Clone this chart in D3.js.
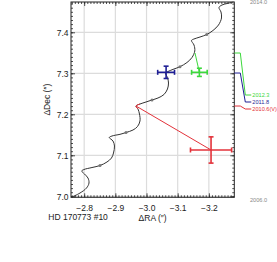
<!DOCTYPE html>
<html><head><meta charset="utf-8">
<script src="https://cdn.jsdelivr.net/npm/d3@7"></script>
<style>body{margin:0;background:#fff}svg{display:block}text{font-family:"Liberation Sans",Arial,sans-serif}</style>
</head><body><svg id="c" width="277" height="262"></svg>
<script>
// ---- data ----
const trackRA = [-2.7599,-2.7865,-2.8074,-2.8154,-2.8122,-2.8010,-2.7920,-2.7994,-2.8250,-2.8507,-2.8731,-2.8876,-2.8940,-2.8972,-2.8924,-2.8805,-2.8892,-2.9149,-2.9341,-2.9566,-2.9710,-2.9790,-2.9774,-2.9726,-2.9662,-2.9790,-2.9983,-3.0175,-3.0368,-3.0560,-3.0672,-3.0705,-3.0672,-3.0608,-3.0688,-3.0881,-3.1073,-3.1297,-3.1458,-3.1548,-3.1523,-3.1442,-3.1523,-3.1715,-3.1930,-3.2132,-3.2309,-3.2405,-3.2389,-3.2325,-3.2421,-3.2613,-3.2790];
const trackDec = [6.9980,7.0080,7.0202,7.0324,7.0446,7.0544,7.0617,7.0654,7.0702,7.0751,7.0837,7.0934,7.1056,7.1227,7.1349,7.1434,7.1471,7.1512,7.1556,7.1617,7.1702,7.1837,7.2007,7.2129,7.2202,7.2251,7.2300,7.2349,7.2398,7.2483,7.2617,7.2763,7.2898,7.3007,7.3044,7.3105,7.3161,7.3263,7.3385,7.3544,7.3690,7.3800,7.3837,7.3885,7.3946,7.4044,7.4178,7.4349,7.4495,7.4605,7.4666,7.4707,7.4739];
const epochRA = [-2.8507,-2.9341,-3.0175,-3.1073,-3.1930];
const epochDec = [7.0751,7.1556,7.2349,7.3161,7.3946];
const obsLabels = ["2010.6(V)","2011.8","2012.3"];
const obsRA = [-3.207,-3.0628,-3.1696];
const obsDec = [7.113,7.3024,7.3024];
const obsErrRA = [0.066,0.027,0.025];
const obsErrDec = [0.032,0.015,0.010];
const predRA = [-2.9662,-3.0608,-3.1555];
const predDec = [7.2202,7.3007,7.3495];
const obsColors = ["#e3323a","#1f1f95","#3cd83c"];
const legendOrder = [2,1,0];
const xTicks = [-2.8,-2.9,-3.0,-3.1,-3.2];
const yTicks = [7.0,7.1,7.2,7.3,7.4];
const epochEnds = ["2014.0","2006.0"];
const starName = "HD 170773 #10";

// ---- layout ----
const L = 71, R = 234.3, T = 2, B = 197.3;
const x = d3.scaleLinear().domain([-2.7577,-3.2816]).range([L,R]);
const y = d3.scaleLinear().domain([6.9976,7.4739]).range([B,T]);
const svg = d3.select("#c");
const ink = "#222";
const fmt = d3.format(".1f");

const minorX = d3.range(-276,-328,-1).map(v=>v/100).filter(v=>v<=-2.7577 && v>=-3.2816);
const minorY = d3.range(700,748,1).map(v=>v/100).filter(v=>v>=6.9976 && v<=7.4739);

// grid
svg.append("g").selectAll("line").data(xTicks).join("line")
  .attr("x1",d=>x(d)).attr("x2",d=>x(d)).attr("y1",T).attr("y2",B)
  .attr("stroke","#dcdcdc").attr("stroke-width",1.2);
svg.append("g").selectAll("line").data(yTicks).join("line")
  .attr("y1",d=>y(d)).attr("y2",d=>y(d)).attr("x1",L).attr("x2",R)
  .attr("stroke","#dcdcdc").attr("stroke-width",1.2);

function styleAxis(g){ g.select(".domain").remove(); g.selectAll("line").attr("stroke",ink).attr("stroke-width",0.8); g.selectAll("text").attr("fill",ink).style("font-size","8.5px").style("font-family",'"Liberation Sans",Arial,sans-serif'); }

// minor ticks
svg.append("g").attr("transform",`translate(0,${B})`).call(d3.axisBottom(x).tickValues(minorX).tickSize(-2).tickFormat("")).call(styleAxis);
svg.append("g").attr("transform",`translate(0,${T})`).call(d3.axisTop(x).tickValues(minorX).tickSize(-2).tickFormat("")).call(styleAxis);
svg.append("g").attr("transform",`translate(${L},0)`).call(d3.axisLeft(y).tickValues(minorY).tickSize(-2).tickFormat("")).call(styleAxis);
svg.append("g").attr("transform",`translate(${R},0)`).call(d3.axisRight(y).tickValues(minorY).tickSize(-2).tickFormat("")).call(styleAxis);
// major ticks
svg.append("g").attr("transform",`translate(0,${B})`).call(d3.axisBottom(x).tickValues(xTicks).tickSize(-4).tickPadding(8).tickFormat(fmt)).call(styleAxis);
svg.append("g").attr("transform",`translate(0,${T})`).call(d3.axisTop(x).tickValues(xTicks).tickSize(-4).tickFormat("")).call(styleAxis);
svg.append("g").attr("transform",`translate(${L},0)`).call(d3.axisLeft(y).tickValues(yTicks).tickSize(-4).tickPadding(2.5).tickFormat(fmt)).call(styleAxis);
svg.append("g").attr("transform",`translate(${R},0)`).call(d3.axisRight(y).tickValues(yTicks).tickSize(-4).tickFormat("")).call(styleAxis);

// frame
svg.append("rect").attr("x",L).attr("y",T).attr("width",R-L).attr("height",B-T)
  .attr("fill","none").attr("stroke",ink).attr("stroke-width",1);

// track
const trackPts = trackRA.map((r,i)=>[r,trackDec[i]]);
const line = d3.line().x(d=>x(d[0])).y(d=>y(d[1])).curve(d3.curveCatmullRom.alpha(0.5));
svg.append("path").datum(trackPts).attr("d",line).attr("fill","none").attr("stroke","#333").attr("stroke-width",1);
// red highlight near the 2010.6 predicted position
svg.append("path").datum(trackPts.slice(23,26)).attr("d",line).attr("fill","none").attr("stroke",obsColors[0]).attr("stroke-width",1);

// lines obs -> predicted
svg.append("g").selectAll("line").data(obsRA).join("line")
  .attr("x1",(d,i)=>x(obsRA[i])).attr("y1",(d,i)=>y(obsDec[i]))
  .attr("x2",(d,i)=>x(predRA[i])).attr("y2",(d,i)=>y(predDec[i]))
  .attr("stroke",(d,i)=>obsColors[i]).attr("stroke-width",1);

// epoch markers
svg.append("g").selectAll("circle").data(epochRA).join("circle")
  .attr("cx",(d,i)=>x(epochRA[i])).attr("cy",(d,i)=>y(epochDec[i])).attr("r",1.5)
  .attr("fill","#777");

// error crosses
obsRA.forEach((r,i)=>{
  const g = svg.append("g").attr("stroke",obsColors[i]).attr("stroke-width",1.6).attr("fill","none");
  const cx = x(r), cy = y(obsDec[i]);
  const x0 = x(r+obsErrRA[i]), x1 = x(r-obsErrRA[i]);
  const y0 = y(obsDec[i]-obsErrDec[i]), y1 = y(obsDec[i]+obsErrDec[i]);
  const cap = 2.5;
  g.append("line").attr("x1",x0).attr("x2",x1).attr("y1",cy).attr("y2",cy);
  g.append("line").attr("x1",cx).attr("x2",cx).attr("y1",y0).attr("y2",y1);
  g.append("line").attr("x1",x0).attr("x2",x0).attr("y1",cy-cap).attr("y2",cy+cap);
  g.append("line").attr("x1",x1).attr("x2",x1).attr("y1",cy-cap).attr("y2",cy+cap);
  g.append("line").attr("x1",cx-cap).attr("x2",cx+cap).attr("y1",y0).attr("y2",y0);
  g.append("line").attr("x1",cx-cap).attr("x2",cx+cap).attr("y1",y1).attr("y2",y1);
});

// right-hand epoch legend
legendOrder.forEach((idx,k)=>{
  const ys = y(predDec[idx]);
  const yl = 95 + k*7;
  svg.append("polyline")
    .attr("points",[[R,ys],[R+6,ys],[R+11,yl],[R+17,yl]].map(p=>p.join(",")).join(" "))
    .attr("fill","none").attr("stroke",obsColors[idx]).attr("stroke-width",1);
  svg.append("text").attr("x",R+18).attr("y",yl+2).text(obsLabels[idx])
    .attr("fill",obsColors[idx]).style("font-size","5.6px");
});
svg.append("text").attr("x",250).attr("y",4).text(epochEnds[0]).attr("fill","#888").style("font-size","5.6px");
svg.append("text").attr("x",250).attr("y",201.5).text(epochEnds[1]).attr("fill","#888").style("font-size","5.6px");

// axis titles
svg.append("text").attr("x",(L+R)/2).attr("y",220.5).attr("text-anchor","middle")
  .attr("fill",ink).style("font-size","8.5px").text("ΔRA (″)");
svg.append("text").attr("transform",`translate(49.5,${(T+B)/2}) rotate(-90)`).attr("text-anchor","middle")
  .attr("fill",ink).style("font-size","8.5px").text("ΔDec (″)");
svg.append("text").attr("x",48.3).attr("y",219.8).attr("fill",ink).style("font-size","8.5px").text(starName);
</script></body></html>
